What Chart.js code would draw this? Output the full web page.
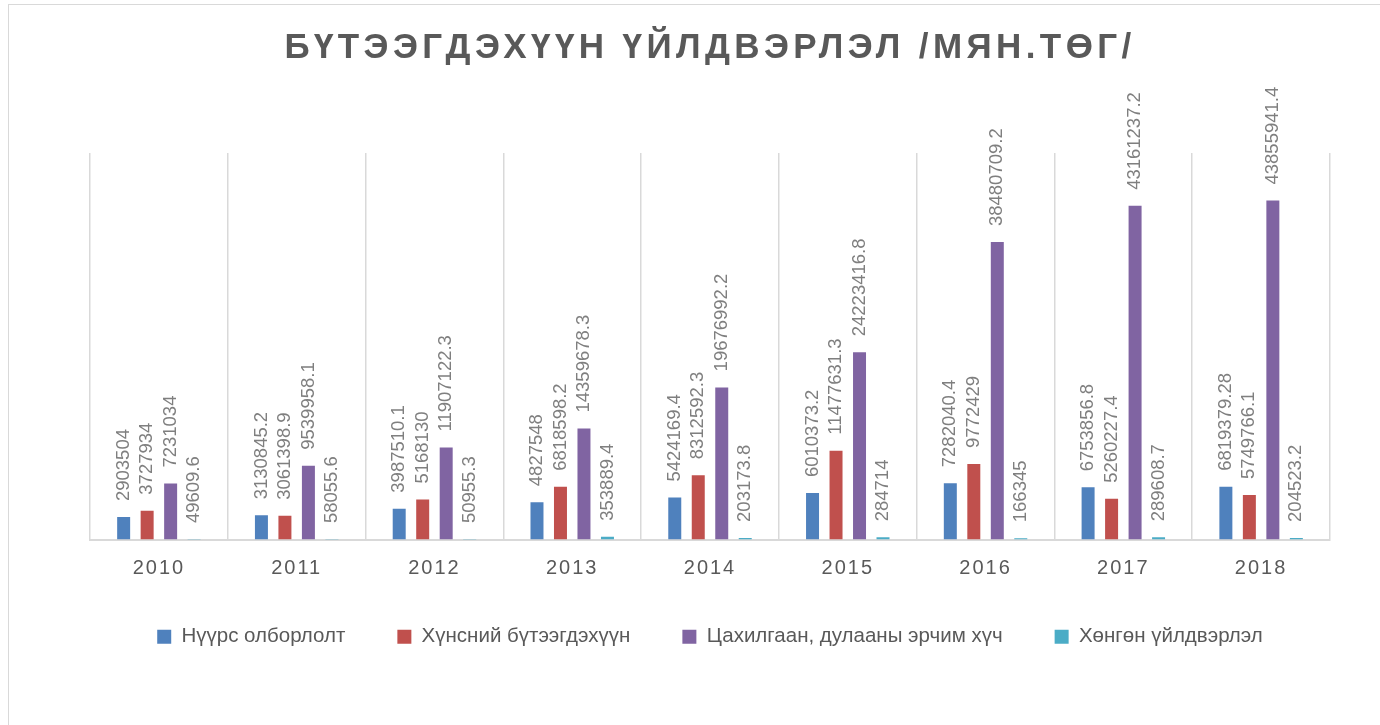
<!DOCTYPE html>
<html>
<head>
<meta charset="utf-8">
<script src="https://cdn.jsdelivr.net/npm/chart.js@4.4.1/dist/chart.umd.min.js"></script>
<style>
    html, body { margin: 0; padding: 0; background: #fff; }
    #wrap { position: relative; width: 1380px; height: 725px; }
    #frame { position: absolute; left: 8px; top: 4px; width: 1400px; height: 740px;
             border: 1px solid #d9d9d9; border-width: 1.5px 0 0 1.5px; pointer-events: none; }
</style>
</head>
<body>
<div id="wrap">
    <canvas id="prodChart" width="1380" height="725"></canvas>
    <div id="frame"></div>
</div>
<script>
const years = ['2010', '2011', '2012', '2013', '2014', '2015', '2016', '2017', '2018'];

const coalMining = [2903504, 3130845.2, 3987510.1, 4827548, 5424169.4, 6010373.2, 7282040.4, 6753856.8, 6819379.28];
const foodProducts = [3727934, 3061398.9, 5168130, 6818598.2, 8312592.3, 11477631.3, 9772429, 5260227.4, 5749766.1];
const powerHeat = [7231034, 9539958.1, 11907122.3, 14359678.3, 19676992.2, 24223416.8, 38480709.2, 43161237.2, 43855941.4];
const lightIndustry = [49609.6, 58055.6, 50955.3, 353889.4, 203173.8, 284714, 166345, 289608.7, 204523.2];

const seriesNames = ['Нүүрс олборлолт', 'Хүнсний бүтээгдэхүүн', 'Цахилгаан, дулааны эрчим хүч', 'Хөнгөн үйлдвэрлэл'];
const seriesColors = ['#4f81bd', '#c0504d', '#8064a2', '#4bacc6'];

const FONT = '"Liberation Sans", Arial, sans-serif';

// letter spacing for the title and the year labels (canvas letterSpacing)
const spacingPlugin = {
    id: 'spacing',
    beforeDraw(chart) {
        const xs = chart.scales.x;
        if (xs && !xs._spaced) {
            const orig = xs.drawLabels;
            xs.drawLabels = function (area) {
                const c = this.ctx;
                c.save();
                c.letterSpacing = '2px';
                orig.call(this, area);
                c.restore();
            };
            xs._spaced = true;
        }
        const tb = chart.titleBlock;
        if (tb && !tb._spaced) {
            const origT = tb.draw;
            tb.draw = function () {
                const c = this.ctx;
                c.save();
                c.letterSpacing = '4.4px';
                origT.call(this);
                c.restore();
            };
            tb._spaced = true;
        }
    }
};

// vertical value labels above each bar
const barLabels = {
    id: 'barLabels',
    afterDatasetsDraw(chart) {
        const ctx = chart.ctx;
        ctx.save();
        ctx.font = '18.5px ' + FONT;
        ctx.fillStyle = '#7f7f7f';
        ctx.textAlign = 'left';
        ctx.textBaseline = 'middle';
        chart.data.datasets.forEach((ds, i) => {
            chart.getDatasetMeta(i).data.forEach((bar, j) => {
                ctx.save();
                ctx.translate(bar.x, bar.y - 16);
                ctx.rotate(-Math.PI / 2);
                ctx.fillText(String(ds.data[j]), 0, 0);
                ctx.restore();
            });
        });
        ctx.restore();
    }
};

const data = {
    labels: years,
    datasets: [coalMining, foodProducts, powerHeat, lightIndustry].map((vals, i) => ({
        label: seriesNames[i],
        data: vals,
        backgroundColor: seriesColors[i],
        categoryPercentage: 0.682,
        barPercentage: 0.553
    }))
};

const config = {
    type: 'bar',
    data: data,
    options: {
        responsive: false,
        animation: false,
        layout: {
            padding: { left: 90, right: 50, top: 0, bottom: 68 }
        },
        scales: {
            x: {
                grid: { color: '#d9d9d9', lineWidth: 1.5, drawTicks: false },
                border: { color: '#d9d9d9', width: 2 },
                ticks: { color: '#595959', padding: 17, font: { family: FONT, size: 20 } },
                // pull the legend closer to the year labels
                afterFit(scale) { scale.height -= 23; }
            },
            y: {
                display: false,
                min: 0,
                max: 50000000
            }
        },
        plugins: {
            title: {
                display: true,
                text: 'БҮТЭЭГДЭХҮҮН ҮЙЛДВЭРЛЭЛ /МЯН.ТӨГ/',
                color: '#595959',
                font: { family: FONT, size: 35, weight: 'bold' },
                padding: { top: 27, bottom: 84 }
            },
            legend: {
                position: 'bottom',
                labels: {
                    color: '#595959',
                    boxWidth: 14,
                    boxHeight: 14,
                    padding: 52,
                    font: { family: FONT, size: 20.5 }
                }
            },
            tooltip: { enabled: false }
        }
    },
    plugins: [spacingPlugin, barLabels]
};

const prodChart = new Chart(document.getElementById('prodChart'), config);
</script>
</body>
</html>
